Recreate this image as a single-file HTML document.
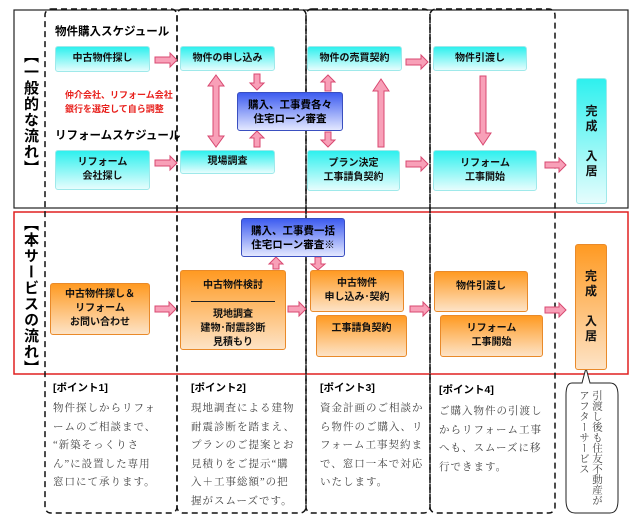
<!DOCTYPE html>
<html><head><meta charset="utf-8"><style>
body{margin:0;width:640px;height:523px;background:#fff;position:relative;overflow:hidden;font-family:"Liberation Sans","Noto Sans CJK JP",sans-serif;}
.b{position:absolute;box-sizing:border-box;display:flex;align-items:center;justify-content:center;text-align:center;font-size:10px;font-weight:bold;line-height:14px;color:#111;border-radius:3px;}
.c{background:linear-gradient(#2ef0ee,#e6fdfd);border:1px solid #9fe9ea;}
.o{background:linear-gradient(#ff9a22,#fde3c6);border:1px solid #e98a2a;}
.bl{background:linear-gradient(#3d5cf0,#e3e8ff);border:1px solid #3a4fc0;color:#000;}
.t{position:absolute;font-size:11px;font-weight:bold;white-space:nowrap;}
.v{position:absolute;writing-mode:vertical-rl;font-weight:bold;font-size:15px;letter-spacing:1px;}
.p{position:absolute;font-family:"Liberation Serif","Noto Serif CJK SC",serif;font-size:10.5px;line-height:18.5px;color:#444;letter-spacing:1px;}
.ph{position:absolute;font-size:10.5px;font-weight:bold;}
.k{font-size:12px;line-height:15px;}
</style></head><body>
<svg width="640" height="523" style="position:absolute;left:0;top:0">
<rect x="14" y="10" width="614" height="198" fill="none" stroke="#222" stroke-width="1.2"/>
<rect x="14" y="212" width="614" height="162" fill="none" stroke="#e02020" stroke-width="1.5"/>
<g fill="none" stroke="#111" stroke-width="1.5" stroke-dasharray="6,4">
<rect x="45" y="9" width="132" height="504" rx="6"/>
<rect x="177" y="9" width="129" height="504" rx="6"/>
<rect x="306" y="9" width="124" height="504" rx="6"/>
<rect x="430" y="9" width="125" height="504" rx="6"/>
</g>
<g fill="#f8a0b8" stroke="#d84870" stroke-width="1">
<polygon points="155,57 170,57 170,53 177,60 170,67 170,63 155,63"/>
<polygon points="155,160 170,160 170,156 177,163 170,170 170,166 155,166"/>
<polygon points="406,59 421,59 421,55 428,62 421,69 421,65 406,65"/>
<polygon points="406,161 421,161 421,157 428,164 421,171 421,167 406,167"/>
<polygon points="545,162 559,162 559,158 566,165 559,172 559,168 545,168"/>
<polygon points="155,306 169,306 169,302 176,309 169,316 169,312 155,312"/>
<polygon points="288,306 299,306 299,302 306,309 299,316 299,312 288,312"/>
<polygon points="410,306 423,306 423,302 430,309 423,316 423,312 410,312"/>
<polygon points="545,307 559,307 559,303 566,310 559,317 559,313 545,313"/>
<polygon points="216,75 224,86 219,86 219,136 224,136 216,147 208,136 213,136 213,86 208,86"/>
<polygon points="254,74 260,74 260,83 264,83 257,90 250,83 254,83"/>
<polygon points="254,147 260,147 260,138 264,138 257,131 250,138 254,138"/>
<polygon points="325,91 331,91 331,82 335,82 328,75 321,82 325,82"/>
<polygon points="325,132 331,132 331,140 335,140 328,147 321,140 325,140"/>
<polygon points="378,147 384,147 384,91 389,91 381,79 373,91 378,91"/>
<polygon points="480,76 486,76 486,133 491,133 483,145 475,133 480,133"/>
<polygon points="273,269 279,269 279,264 283,264 276,257 269,264 273,264"/>
<polygon points="315,257 321,257 321,264 325,264 318,270 311,264 315,264"/>
</g>
<path d="M572,383 Q566,383 566,395 L566,500 Q566,513 575,513 L610,513 Q618,513 618,500 L618,395 Q618,383 610,383 L590,383 L586,368 L582,383 Z" fill="#fff" stroke="#222" stroke-width="1"/>
</svg>
<div class="v" style="left:20px;top:48px;">【一般的な流れ】</div>
<div class="v" style="left:20px;top:216px;">【本サービスの流れ】</div>
<div class="t" style="left:55px;top:23px;font-size:11.5px">物件購入スケジュール</div>
<div class="t" style="left:55px;top:127px;font-size:11.5px">リフォームスケジュール</div>
<div class="t" style="left:65px;top:88px;color:#e8201c;font-size:9px;line-height:14px">仲介会社、リフォーム会社<br>銀行を選定して自ら調整</div>
<div class="b c" style="left:55px;top:46px;width:95px;height:26px">中古物件探し</div>
<div class="b c" style="left:55px;top:150px;width:95px;height:40px">リフォーム<br>会社探し</div>
<div class="b c" style="left:180px;top:46px;width:95px;height:25px">物件の申し込み</div>
<div class="b c" style="left:180px;top:150px;width:95px;height:24px">現場調査</div>
<div class="b bl" style="left:237px;top:92px;width:106px;height:39px;font-size:10.5px">購入、工事費各々<br>住宅ローン審査</div>
<div class="b c" style="left:307px;top:46px;width:95px;height:25px">物件の売買契約</div>
<div class="b c" style="left:307px;top:150px;width:93px;height:41px">プラン決定<br>工事請負契約</div>
<div class="b c" style="left:433px;top:46px;width:94px;height:25px">物件引渡し</div>
<div class="b c" style="left:433px;top:150px;width:104px;height:41px">リフォーム<br>工事開始</div>
<div class="b c k" style="left:576px;top:78px;width:31px;height:126px;">完<br>成<br><br>入<br>居</div>
<div class="b bl" style="left:241px;top:218px;width:104px;height:39px;font-size:10.5px">購入、工事費一括<br>住宅ローン審査※</div>
<div class="b o" style="left:50px;top:283px;width:100px;height:52px">中古物件探し＆<br>リフォーム<br>お問い合わせ</div>
<div class="b o" style="left:180px;top:270px;width:106px;height:80px;display:block;padding-top:8px">中古物件検討<div style="border-top:1px solid #222;margin:8px 10px 6px"></div>現地調査<br>建物･耐震診断<br>見積もり</div>
<div class="b o" style="left:310px;top:270px;width:94px;height:42px">中古物件<br>申し込み･契約</div>
<div class="b o" style="left:316px;top:315px;width:91px;height:42px;align-items:flex-start;padding-top:6px">工事請負契約</div>
<div class="b o" style="left:434px;top:271px;width:94px;height:41px;align-items:flex-start;padding-top:8px">物件引渡し</div>
<div class="b o" style="left:440px;top:315px;width:103px;height:42px">リフォーム<br>工事開始</div>
<div class="b o k" style="left:575px;top:244px;width:32px;height:126px;align-items:flex-start;padding-top:24px">完<br>成<br><br>入<br>居</div>
<div class="ph" style="left:53px;top:380px">[ポイント1]</div>
<div class="ph" style="left:191px;top:380px">[ポイント2]</div>
<div class="ph" style="left:320px;top:380px">[ポイント3]</div>
<div class="ph" style="left:439px;top:382px">[ポイント4]</div>
<div class="p" style="left:53px;top:400px">物件探しからリフォ<br>ームのご相談まで、<br>“新築そっくりさ<br>ん”に設置した専用<br>窓口にて承ります。</div>
<div class="p" style="left:191px;top:400px">現地調査による建物<br>耐震診断を踏まえ、<br>プランのご提案とお<br>見積りをご提示“購<br>入＋工事総額”の把<br>握がスムーズです。</div>
<div class="p" style="left:320px;top:400px">資金計画のご相談か<br>ら物件のご購入、リ<br>フォーム工事契約ま<br>で、窓口一本で対応<br>いたします。</div>
<div class="p" style="left:439px;top:403px">ご購入物件の引渡し<br>からリフォーム工事<br>へも、スムーズに移<br>行できます。</div>
<div class="p" style="left:577px;top:390px;writing-mode:vertical-rl;line-height:13px;letter-spacing:0;font-size:10.5px">引渡し後も住友不動産が<br>アフターサービス</div>
</body></html>
